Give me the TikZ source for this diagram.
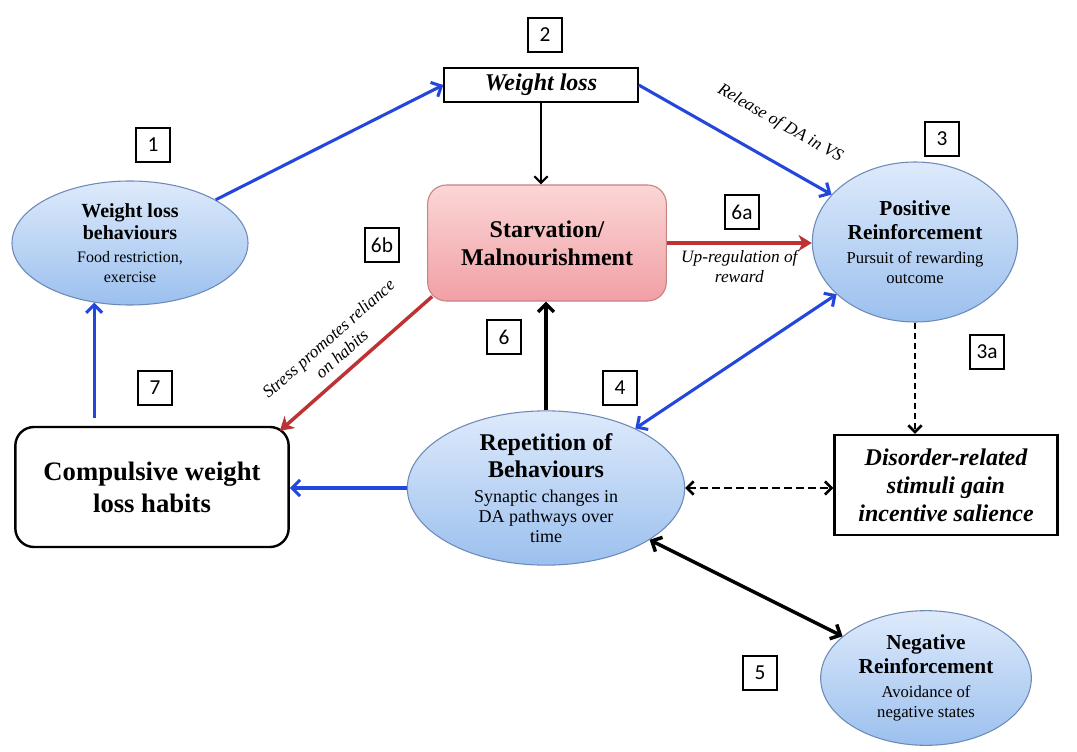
\documentclass[tikz,border=0pt]{standalone}
\usepackage{fontspec}
\setmainfont{Liberation Serif}
\newfontfamily\numfont{Carlito}
\usetikzlibrary{arrows.meta,shapes.geometric,calc}

\definecolor{arrowblue}{RGB}{35,70,220}
\definecolor{arrowred}{RGB}{190,50,50}
\definecolor{elltop}{RGB}{222,234,251}
\definecolor{ellbot}{RGB}{155,192,238}
\definecolor{ellline}{RGB}{110,138,185}
\definecolor{pinktop}{RGB}{251,214,214}
\definecolor{pinkbot}{RGB}{241,160,165}
\definecolor{pinkline}{RGB}{200,130,130}

% font for the descriptive lines inside the ellipses
\newcommand\subline[2]{{\rmfamily\mdseries\fontsize{#1}{#1}\selectfont #2}}

\begin{document}
\begin{tikzpicture}[x=0.75pt,y=-0.75pt,
  ell/.style={ellipse, draw=ellline, line width=0.8pt, top color=elltop,
    bottom color=ellbot, inner sep=0pt, align=center},
  plainbox/.style={draw=black, line width=1.6pt, fill=white, inner sep=0pt, align=center},
  numbox/.style={draw=black, line width=1.4pt, fill=white, minimum width=26pt,
    minimum height=25pt, inner sep=0pt, font=\numfont\fontsize{16}{16}\selectfont},
  lbl/.style={font=\rmfamily\fontsize{13}{15}\selectfont\itshape, inner sep=1pt},
  bluearr/.style={draw=arrowblue, line width=2.3pt, -{Straight Barb[length=6pt,width=12pt]}},
  bluedbl/.style={draw=arrowblue, line width=2.3pt, {Straight Barb[length=6pt,width=12pt]}-{Straight Barb[length=6pt,width=12pt]}},
  redarr/.style={draw=arrowred, line width=2.6pt, -{Stealth[length=10pt,width=12pt,inset=3pt]}},
  blackarr/.style={draw=black, line width=1.6pt, -{Straight Barb[length=5pt,width=10pt]}},
  blackthick/.style={draw=black, line width=2.6pt, -{Straight Barb[length=6pt,width=12pt]}},
  blackdbl/.style={draw=black, line width=2.6pt, {Straight Barb[length=6pt,width=12pt]}-{Straight Barb[length=6pt,width=12pt]}},
  blackdash/.style={draw=black, line width=2pt, dash pattern=on 5pt off 2.5pt, -{Straight Barb[length=5pt,width=10pt]}},
  blackdashdbl/.style={draw=black, line width=2pt, dash pattern=on 6pt off 3pt, {Straight Barb[length=5pt,width=10pt]}-{Straight Barb[length=5pt,width=10pt]}}
]
\path[fill=white] (0,0) rectangle (1077,752);
\useasboundingbox (0,0) rectangle (1077,752);

% main nodes
\node[plainbox, minimum width=145pt, minimum height=25.5pt,
  font=\rmfamily\fontsize{18}{18}\selectfont\bfseries\itshape] (wl) at (541,85) {Weight loss};

\node[ell, minimum width=177pt, minimum height=93pt,
  font=\rmfamily\fontsize{15}{17}\selectfont\bfseries] (e1) at (130,243)
  {Weight loss\\ behaviours\\ \subline{12}{Food restriction,}\\[-2pt] \subline{12}{exercise}};

\node[draw=pinkline, line width=0.8pt, rounded corners=14pt, top color=pinktop,
  bottom color=pinkbot, minimum width=179pt, minimum height=87pt, align=center,
  font=\rmfamily\fontsize{18}{21}\selectfont\bfseries] (sv) at (547,243)
  {Starvation/\\ Malnourishment};

\node[ell, minimum width=154pt, minimum height=120pt,
  font=\rmfamily\fontsize{16}{18}\selectfont\bfseries] (e3) at (915,242)
  {Positive\\ Reinforcement\\ \subline{12.5}{Pursuit of rewarding}\\[-3pt] \subline{12.5}{outcome}};

\node[plainbox, rounded corners=14pt, line width=1.8pt, minimum width=205pt,
  minimum height=90pt, font=\rmfamily\fontsize{20}{24}\selectfont\bfseries] (cmp) at (152,487)
  {Compulsive weight\\ loss habits};

\node[ell, minimum width=208pt, minimum height=106pt,
  font=\rmfamily\fontsize{18}{20}\selectfont\bfseries] (e4) at (546,488)
  {Repetition of\\ Behaviours\\[-1pt] \subline{13.5}{Synaptic changes in}\\[-5pt]
   \subline{13.5}{DA pathways over}\\[-5pt] \subline{13.5}{time}};

\node[plainbox, line width=1.8pt, minimum width=167pt, minimum height=75pt,
  font=\rmfamily\fontsize{18}{21}\selectfont\bfseries\itshape] (dis) at (946,485)
  {Disorder-related\\ stimuli gain\\ incentive salience};

\node[ell, minimum width=158pt, minimum height=101pt,
  font=\rmfamily\fontsize{16}{18}\selectfont\bfseries] (e5) at (926,678)
  {Negative\\ Reinforcement\\ \subline{12.5}{Avoidance of}\\[-3pt] \subline{12.5}{negative states}};

% step numbers
\node[numbox] (n1) at (153,145) {1};
\node[numbox] (n2) at (545,35) {2};
\node[numbox] (n3) at (942,139) {3};
\node[numbox] (n3a) at (987,352) {3a};
\node[numbox] (n4) at (620,388) {4};
\node[numbox] (n5) at (760,673) {5};
\node[numbox] (n6) at (504,337) {6};
\node[numbox] (n6a) at (742,212) {6a};
\node[numbox] (n6b) at (382,245) {6b};
\node[numbox] (n7) at (155,388) {7};

% connectors
\draw[bluearr] (e1) -- (wl.west);
\draw[blackarr] (wl.south) -- (wl.south |- sv.north);
\draw[bluearr] (wl.east) -- (e3)
  node[lbl, sloped, above=19pt, pos=0.64] {Release of DA in VS};
\draw[redarr] (sv.east) -- (sv.east -| e3.west)
  node[lbl, midway, below=3pt, align=center] {Up-regulation of\\ reward};
\draw[redarr] ([shift={(5,-5)}]sv.south west) -- ([shift={(-10,5)}]cmp.north east)
  node[lbl, sloped, above=6pt, pos=0.52, align=center] {Stress promotes reliance\\ on habits};
\draw[blackthick] (e4.north) -- (e4.north |- sv.south);
\draw[bluedbl] (e3) -- (e4);
\draw[blackdash] (e3.south) -- (e3.south |- dis.north);
\draw[blackdashdbl] (e4.east) -- (e4.east -| dis.west);
\draw[blackdbl] (e4) -- (e5);
\draw[bluearr] (e4.west) -- (e4.west -| cmp.east);
\draw[bluearr, shorten <=6pt] (cmp.north -| e1.239) -- (e1.239);
\end{tikzpicture}
\end{document}
